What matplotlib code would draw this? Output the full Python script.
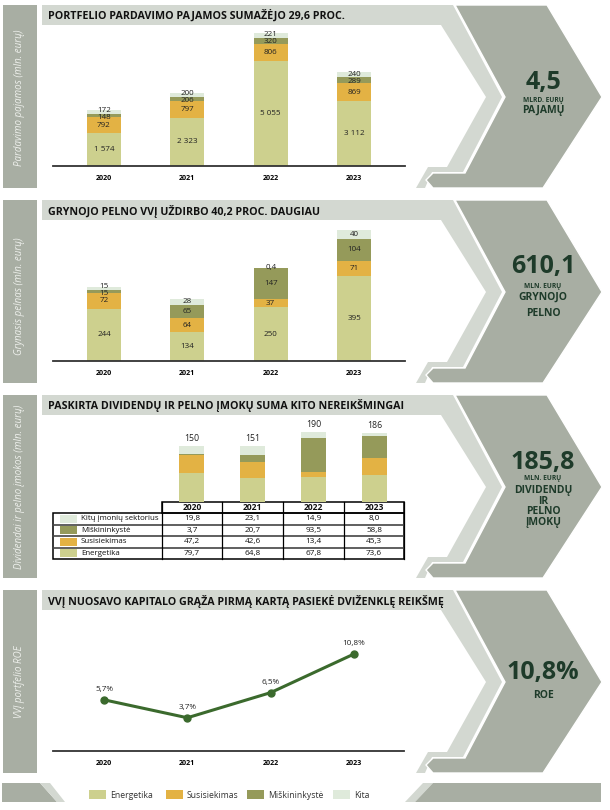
import matplotlib
matplotlib.use("Agg")
import matplotlib.pyplot as plt
from matplotlib.patches import Polygon, Rectangle
import numpy as np

plt.rcParams['font.family'] = ['Open Sans', 'DejaVu Sans']

W, H = 610, 810

years = ["2020", "2021", "2022", "2023"]
sectors = ["Energetika", "Susisiekimas", "Miškininkystė", "Kita"]
colors = ["#cdd08e", "#e3b244", "#959a5a", "#dfeadb"]

# pardavimo pajamos, mln. eur
rev_energy = [1574, 2323, 5055, 3112]
rev_transport = [792, 797, 806, 869]
rev_forest = [148, 206, 320, 289]
rev_other = [172, 200, 221, 240]

# grynasis pelnas, mln. eur
np_energy = [244, 134, 250, 395]
np_transport = [72, 64, 37, 71]
np_forest = [15, 65, 147, 104]
np_other = [15, 28, 0.4, 40]

# dividendai ir pelno imokos, mln. eur
div_energy = [79.7, 64.8, 67.8, 73.6]
div_transport = [47.2, 42.6, 13.4, 45.3]
div_forest = [3.7, 20.7, 93.5, 58.8]
div_other = [19.8, 23.1, 14.9, 8.0]
div_row_labels = ["Kitų įmonių sektorius", "Miškininkystė", "Susisiekimas", "Energetika"]

roe = [5.7, 3.7, 6.5, 10.8]

titles = ["PORTFELIO PARDAVIMO PAJAMOS SUMAŽĖJO 29,6 PROC.",
          "GRYNOJO PELNO VVĮ UŽDIRBO 40,2 PROC. DAUGIAU",
          "PASKIRTA DIVIDENDŲ IR PELNO ĮMOKŲ SUMA KITO NEREIKŠMINGAI",
          "VVĮ NUOSAVO KAPITALO GRĄŽA PIRMĄ KARTĄ PASIEKĖ DVIŽENKLĘ REIKŠMĘ"]
side_labels = ["Pardavimo pajamos (mln. eurų)", "Grynasis pelnas (mln. eurų)",
               "Dividendai ir pelno įmokos (mln. eurų)", "VVĮ portfelio ROE"]
big_numbers = ["4,5", "610,1", "185,8", "10,8%"]
big_units = ["MLRD. EURŲ", "MLN. EURŲ", "MLN. EURŲ", None]
big_words = [["PAJAMŲ"], ["GRYNOJO", "PELNO"], ["DIVIDENDŲ", "IR", "PELNO", "ĮMOKŲ"], ["ROE"]]

DARK = "#a8aea3"
LIGHT = "#d3d8d1"
TXT = "#1e3b2a"


def fmt(v):
    if float(v).is_integer():
        return f"{int(v):,}".replace(",", " ")
    return str(v).replace(".", ",")


def px_axes(x0, y0, x1, y1):
    ax = fig.add_axes([x0 / W, 1 - y1 / H, (x1 - x0) / W, (y1 - y0) / H])
    ax.patch.set_alpha(0)
    return ax


def spread(pos, gap):
    # push apart label centres that sit closer than gap
    pos = list(pos)
    for _ in range(30):
        for j in range(1, len(pos)):
            d = pos[j] - pos[j - 1]
            if d < gap:
                pos[j - 1] -= (gap - d) / 2
                pos[j] += (gap - d) / 2
    return pos


def stacked(ax, series, labels=True, px_height=None):
    x = np.arange(len(years))
    data = np.array(series, float)
    bottoms = np.vstack([np.zeros(len(years)), np.cumsum(data, axis=0)[:-1]])
    tot = data.sum(axis=0)
    for vals, b, c in zip(data, bottoms, colors):
        ax.bar(x, vals, 0.41, bottom=b, color=c, zorder=2)
    ax.set_ylim(0, tot.max())
    if labels:
        gap = 7 * tot.max() / px_height
        for xi in x:
            centres = spread(bottoms[:, xi] + data[:, xi] / 2, gap)
            for yc, v in zip(centres, data[:, xi]):
                ax.text(xi, yc, fmt(v), ha="center", va="center",
                        fontsize=5.8, color="#222222", zorder=3)
    return tot


def year_axis(ax):
    for s in ["top", "right", "left"]:
        ax.spines[s].set_visible(False)
    ax.spines["bottom"].set_color("#333333")
    ax.spines["bottom"].set_linewidth(1.3)
    ax.set_xlim(-0.61, 3.61)
    ax.set_yticks([])
    ax.set_xticks(np.arange(len(years)), years, fontsize=5.1, fontweight="bold")
    ax.tick_params(axis="x", length=0, pad=6.5)


fig = plt.figure(figsize=(W / 100, H / 100), dpi=100)
bg = fig.add_axes([0, 0, 1, 1])
bg.set_xlim(0, W)
bg.set_ylim(H, 0)
bg.axis("off")

tops = [5, 200, 395, 590]
ph = 183
side_y = [98, 296, 487, 682]
big_y = [[82, 100, 110], [267, 287, 297, 313], [463, 479, 490, 501, 512, 523], [673, 695]]

for i, y0 in enumerate(tops):
    y1 = y0 + ph
    bg.add_patch(Rectangle((3, y0), 34, ph, color=DARK, lw=0))
    light = [(42, 0), (453, 0), (502, 92), (463, 167), (432, 167), (425, 183), (42, 183)]
    white = [(42, 20), (441, 20), (486, 92), (447, 162), (428, 162), (416, 183), (42, 183)]
    dark = [(455, 0), (547, 0), (602, 92), (543, 183), (433, 183), (426, 175), (433, 168),
            (465, 168), (505, 92)]
    bg.add_patch(Polygon([(x, y0 + dy) for x, dy in light], closed=True, color=LIGHT, lw=0))
    bg.add_patch(Polygon([(x, y0 + dy) for x, dy in white], closed=True, color="white", lw=0))
    bg.add_patch(Polygon([(x, y0 + dy) for x, dy in dark], closed=True, facecolor=DARK,
                         edgecolor="white", lw=1))
    bg.text(48, y0 + 11, titles[i], fontsize=7.7, fontweight="bold", color="#111111",
            ha="left", va="center")
    bg.text(20, side_y[i], side_labels[i], rotation=90, style="italic",
            fontsize=7, color="#eef0ec", ha="center", va="center")
    ys = big_y[i]
    bg.text(543, ys[0], big_numbers[i], fontsize=18, fontweight="bold", color=TXT,
            ha="center", va="center")
    k = 1
    if big_units[i]:
        bg.text(543, ys[1], big_units[i], fontsize=4.8, fontweight="bold", color=TXT,
                ha="center", va="center")
        k = 2
    for w, yy in zip(big_words[i], ys[k:]):
        bg.text(543, yy, w, fontsize=7.5, fontweight="bold", color=TXT,
                ha="center", va="center")

# legend bar
bg.add_patch(Polygon([(2, 783), (40, 783), (57, 802), (2, 802)], closed=True, color=DARK, lw=0))
bg.add_patch(Polygon([(40, 783), (50, 783), (65, 802), (57, 802)], closed=True, color=LIGHT, lw=0))
bg.add_patch(Polygon([(423, 783), (433, 783), (415, 802), (405, 802)], closed=True, color=LIGHT, lw=0))
bg.add_patch(Polygon([(433, 783), (601, 783), (601, 802), (415, 802)], closed=True, color=DARK, lw=0))
for xl, name, c in zip([89, 166, 247, 333], sectors, colors):
    bg.add_patch(Rectangle((xl, 790), 17, 9, color=c, lw=0))
    bg.text(xl + 21, 795, name, fontsize=6.2, color="#333333", ha="left", va="center")

# 1. pardavimo pajamos
ax1 = px_axes(53, 33, 405, 166)
stacked(ax1, [rev_energy, rev_transport, rev_forest, rev_other], px_height=133)
year_axis(ax1)

# 2. grynasis pelnas
ax2 = px_axes(53, 230, 405, 361)
stacked(ax2, [np_energy, np_transport, np_forest, np_other], px_height=131)
year_axis(ax2)

# 3. dividendai
ax3 = px_axes(162, 432, 404, 502)
tot = stacked(ax3, [div_energy, div_transport, div_forest, div_other], labels=False)
ax3.set_xlim(-0.484, 3.484)
ax3.axis("off")
for xi, t in enumerate(tot):
    ax3.annotate(f"{t:.0f}", (xi, t), xytext=(0, 5.5), textcoords="offset points",
                 ha="center", va="center", fontsize=6.3, color="#222222", annotation_clip=False)

cols_x = [162, 222, 283, 344, 404]
rows_y = [513, 524.5, 536, 547.5, 559]
bg.add_patch(Rectangle((162, 502), 242, 11, fill=False, ec="black", lw=1.1))
for xi, yr in enumerate(years):
    bg.text((cols_x[xi] + cols_x[xi + 1]) / 2, 507.5, yr, fontsize=6.1, fontweight="bold",
            ha="center", va="center", color="#111111")
table_rows = [div_other, div_forest, div_transport, div_energy]
row_colors = colors[::-1]
for r, (lab, vals, c) in enumerate(zip(div_row_labels, table_rows, row_colors)):
    ya, yb = rows_y[r], rows_y[r + 1]
    ym = (ya + yb) / 2
    bg.add_patch(Rectangle((60, ym - 4), 17, 8, color=c, lw=0))
    bg.text(81, ym, lab, fontsize=5.7, color="#111111", ha="left", va="center")
    for ci, v in enumerate(vals):
        bg.text((cols_x[ci] + cols_x[ci + 1]) / 2, ym, f"{v:.1f}".replace(".", ","),
                fontsize=5.9, color="#111111", ha="center", va="center")
for yy in rows_y[1:-1]:
    bg.plot([53, 404], [yy, yy], color="#444444", lw=1.2)
for xx in cols_x:
    bg.plot([xx, xx], [502, 559], color="black", lw=0.9)
bg.add_patch(Rectangle((53, 513), 351, 46, fill=False, ec="black", lw=1.1))

# 4. ROE
ax4 = px_axes(53, 654, 404, 751)
x = np.arange(len(years))
ax4.plot(x, roe, color="#3b6a2d", lw=2.2, marker="o", ms=5, clip_on=False, zorder=3)
for xi, v in zip(x, roe):
    ax4.annotate(fmt(v) + "%", (xi, v), xytext=(0, 7.5), textcoords="offset points",
                 ha="center", va="center", fontsize=5.9, color="#222222", annotation_clip=False)
ax4.set_ylim(0, max(roe))
year_axis(ax4)
ax4.set_xlim(-0.612, 3.6)

fig.savefig("out.png", dpi=100)
